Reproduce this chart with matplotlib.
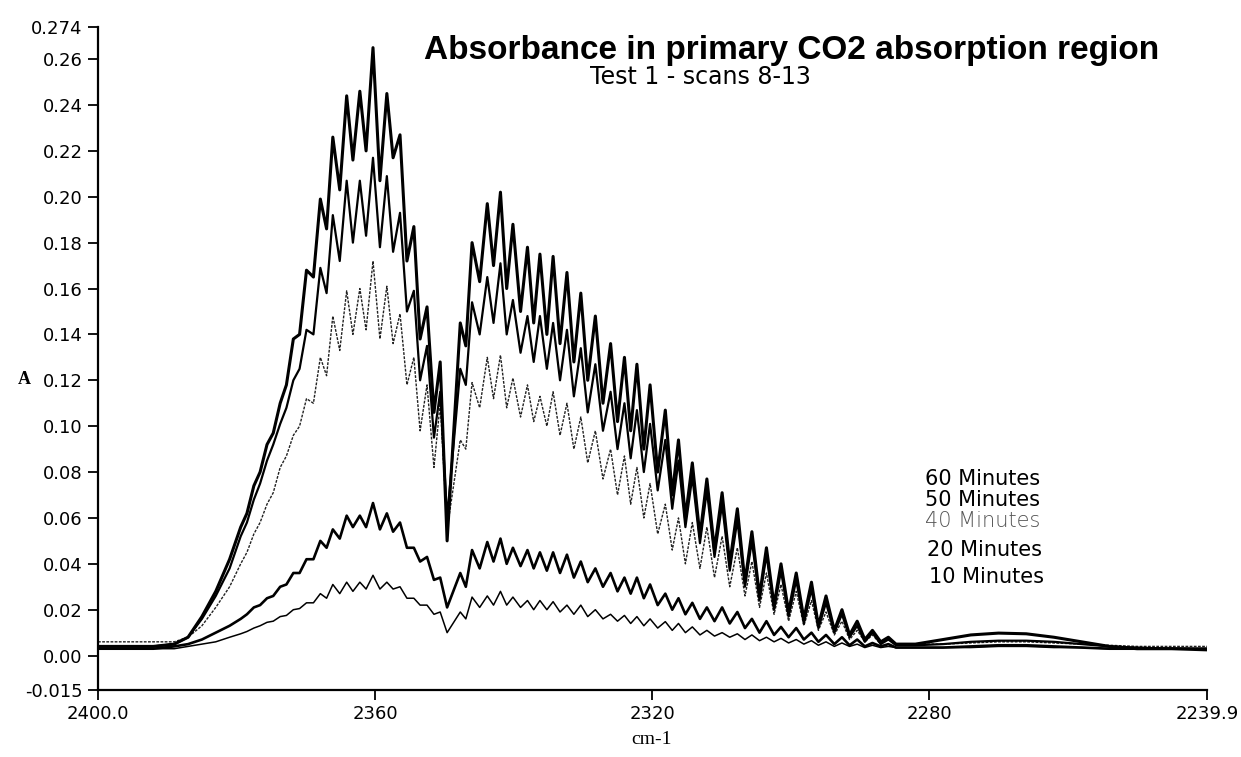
import numpy as np
import matplotlib
matplotlib.use("Agg")
import matplotlib.pyplot as plt

# wavenumber grid (cm-1): left wing, R-branch lines/troughs, P-branch lines/troughs, right tail
nu_left = [2400.0, 2396.0, 2392.0, 2389.0, 2387.0, 2385.0, 2383.0, 2381.0]
nu_r = [2379.4, 2378.5, 2377.5, 2376.6, 2375.6, 2374.7, 2373.7, 2372.8,
        2371.8, 2370.9, 2369.9, 2368.9, 2367.9, 2367.0, 2366.1, 2365.1,
        2364.1, 2363.2, 2362.2, 2361.3, 2360.3, 2359.3, 2358.3, 2357.4,
        2356.4, 2355.4, 2354.4, 2353.5, 2352.5, 2351.5, 2350.6, 2349.6]
nu_p = [2347.7, 2346.9, 2346.0, 2344.9, 2343.8, 2342.9, 2341.9, 2341.0,
        2340.1, 2339.0, 2338.0, 2337.1, 2336.2, 2335.2, 2334.3, 2333.3,
        2332.3, 2331.3, 2330.3, 2329.3, 2328.2, 2327.1, 2326.0, 2325.0,
        2324.0, 2323.1, 2322.2, 2321.2, 2320.3, 2319.2, 2318.1, 2317.1,
        2316.2, 2315.2, 2314.2, 2313.1, 2312.1, 2311.0, 2309.9, 2308.8,
        2307.7, 2306.6, 2305.6, 2304.5, 2303.5, 2302.4, 2301.4, 2300.3,
        2299.2, 2298.1, 2297.0, 2296.0, 2294.9, 2293.7, 2292.6, 2291.5,
        2290.4, 2289.3, 2288.2, 2287.0, 2285.9, 2284.8]
nu_tail = [2282.0, 2278.0, 2274.0, 2270.0, 2266.0, 2262.0, 2258.0, 2254.0,
           2250.0, 2245.0, 2239.9]
wavenumber = np.array(nu_left + nu_r + nu_p + nu_tail)

# absorbance for each scan, same order as the grid
a60 = [0.004, 0.004, 0.004, 0.005, 0.008, 0.017, 0.028, 0.042,
       0.056, 0.062, 0.074, 0.080, 0.092, 0.097, 0.110, 0.118,
       0.138, 0.140, 0.168, 0.165, 0.199, 0.186, 0.226, 0.203,
       0.244, 0.216, 0.246, 0.220, 0.265, 0.207, 0.245, 0.217,
       0.227, 0.172, 0.187, 0.138, 0.152, 0.106, 0.128, 0.050,
       0.145, 0.135, 0.180, 0.163, 0.197, 0.170, 0.202, 0.160,
       0.188, 0.150, 0.178, 0.145, 0.175, 0.140, 0.174, 0.136,
       0.167, 0.128, 0.158, 0.120, 0.148, 0.110, 0.136, 0.102,
       0.130, 0.098, 0.127, 0.090, 0.118, 0.080, 0.107, 0.070,
       0.094, 0.060, 0.084, 0.052, 0.077, 0.046, 0.071, 0.040,
       0.064, 0.032, 0.054, 0.026, 0.047, 0.022, 0.040, 0.019,
       0.036, 0.016, 0.032, 0.013, 0.026, 0.011, 0.020, 0.009,
       0.015, 0.007, 0.011, 0.006, 0.008, 0.005,
       0.005, 0.007, 0.009, 0.0098, 0.0095, 0.008, 0.006, 0.004,
       0.003, 0.003, 0.0025]

a50 = [0.004, 0.004, 0.004, 0.005, 0.008, 0.016, 0.026, 0.038,
       0.052, 0.058, 0.068, 0.075, 0.085, 0.092, 0.101, 0.108,
       0.120, 0.125, 0.142, 0.140, 0.169, 0.158, 0.192, 0.172,
       0.207, 0.180, 0.207, 0.183, 0.217, 0.178, 0.209, 0.176,
       0.193, 0.150, 0.159, 0.120, 0.135, 0.095, 0.115, 0.060,
       0.125, 0.118, 0.154, 0.140, 0.165, 0.145, 0.171, 0.140,
       0.155, 0.132, 0.148, 0.128, 0.148, 0.125, 0.145, 0.120,
       0.142, 0.113, 0.134, 0.106, 0.127, 0.098, 0.115, 0.090,
       0.110, 0.086, 0.107, 0.080, 0.101, 0.072, 0.094, 0.064,
       0.085, 0.056, 0.078, 0.049, 0.072, 0.043, 0.066, 0.037,
       0.059, 0.030, 0.050, 0.024, 0.044, 0.020, 0.037, 0.017,
       0.033, 0.014, 0.029, 0.012, 0.023, 0.010, 0.018, 0.008,
       0.013, 0.006, 0.010, 0.005, 0.007, 0.0045,
       0.0045, 0.005, 0.006, 0.0065, 0.0065, 0.006, 0.005, 0.004,
       0.0035, 0.003, 0.003]

a40 = [0.006, 0.006, 0.006, 0.006, 0.008, 0.013, 0.021, 0.030,
       0.040, 0.045, 0.053, 0.058, 0.066, 0.071, 0.082, 0.087,
       0.096, 0.100, 0.112, 0.110, 0.130, 0.122, 0.148, 0.133,
       0.159, 0.140, 0.160, 0.142, 0.172, 0.138, 0.161, 0.136,
       0.149, 0.118, 0.130, 0.098, 0.118, 0.082, 0.110, 0.055,
       0.094, 0.090, 0.119, 0.108, 0.130, 0.112, 0.131, 0.108,
       0.121, 0.104, 0.118, 0.102, 0.113, 0.100, 0.115, 0.096,
       0.110, 0.090, 0.104, 0.084, 0.098, 0.077, 0.090, 0.070,
       0.087, 0.066, 0.082, 0.060, 0.075, 0.053, 0.066, 0.046,
       0.060, 0.040, 0.058, 0.038, 0.056, 0.034, 0.052, 0.030,
       0.047, 0.026, 0.041, 0.021, 0.036, 0.018, 0.031, 0.015,
       0.028, 0.013, 0.024, 0.011, 0.019, 0.009, 0.015, 0.007,
       0.011, 0.006, 0.009, 0.005, 0.007, 0.005,
       0.005, 0.005, 0.0055, 0.006, 0.006, 0.0055, 0.005, 0.0045,
       0.004, 0.004, 0.004]

a20 = [0.003, 0.003, 0.003, 0.004, 0.005, 0.007, 0.010, 0.013,
       0.016, 0.018, 0.021, 0.022, 0.025, 0.026, 0.030, 0.031,
       0.036, 0.036, 0.042, 0.042, 0.050, 0.047, 0.055, 0.051,
       0.061, 0.056, 0.061, 0.056, 0.0665, 0.055, 0.062, 0.054,
       0.058, 0.047, 0.047, 0.041, 0.043, 0.033, 0.034, 0.021,
       0.036, 0.030, 0.046, 0.038, 0.0495, 0.041, 0.051, 0.040,
       0.047, 0.039, 0.046, 0.038, 0.045, 0.037, 0.045, 0.036,
       0.044, 0.034, 0.041, 0.032, 0.038, 0.030, 0.036, 0.028,
       0.034, 0.027, 0.034, 0.025, 0.031, 0.022, 0.027, 0.020,
       0.025, 0.018, 0.023, 0.016, 0.021, 0.015, 0.021, 0.014,
       0.019, 0.012, 0.016, 0.010, 0.015, 0.009, 0.0125, 0.008,
       0.012, 0.007, 0.010, 0.006, 0.009, 0.005, 0.008, 0.0045,
       0.007, 0.004, 0.0055, 0.004, 0.005, 0.0035,
       0.0035, 0.0035, 0.004, 0.0045, 0.0045, 0.004, 0.0035, 0.003,
       0.003, 0.003, 0.003]

a10 = [0.003, 0.003, 0.003, 0.003, 0.004, 0.005, 0.006, 0.008,
       0.0095, 0.0105, 0.012, 0.013, 0.0145, 0.015, 0.017, 0.0175,
       0.020, 0.0205, 0.023, 0.023, 0.027, 0.025, 0.031, 0.027,
       0.032, 0.028, 0.032, 0.029, 0.035, 0.029, 0.032, 0.029,
       0.030, 0.025, 0.025, 0.022, 0.022, 0.018, 0.019, 0.010,
       0.019, 0.016, 0.0255, 0.021, 0.026, 0.022, 0.028, 0.022,
       0.0255, 0.021, 0.024, 0.020, 0.024, 0.020, 0.0235, 0.019,
       0.022, 0.018, 0.022, 0.017, 0.020, 0.016, 0.018, 0.015,
       0.0175, 0.014, 0.017, 0.013, 0.016, 0.012, 0.0148, 0.011,
       0.014, 0.010, 0.0125, 0.009, 0.011, 0.0085, 0.010, 0.008,
       0.0095, 0.007, 0.009, 0.0065, 0.008, 0.006, 0.0075, 0.0055,
       0.007, 0.005, 0.0065, 0.0045, 0.006, 0.004, 0.0055, 0.004,
       0.005, 0.0035, 0.0045, 0.0035, 0.004, 0.0035,
       0.0035, 0.0035, 0.0035, 0.004, 0.004, 0.0035, 0.0035, 0.003,
       0.003, 0.003, 0.003]

x_ticks = [2400.0, 2360, 2320, 2280, 2239.9]
x_ticklabels = ["2400.0", "2360", "2320", "2280", "2239.9"]
y_ticks = [-0.015, 0.00, 0.02, 0.04, 0.06, 0.08, 0.10, 0.12, 0.14,
           0.16, 0.18, 0.20, 0.22, 0.24, 0.26, 0.274]
y_ticklabels = ["-0.015", "0.00", "0.02", "0.04", "0.06", "0.08", "0.10",
                "0.12", "0.14", "0.16", "0.18", "0.20", "0.22", "0.24",
                "0.26", "0.274"]

fig = plt.figure(figsize=(12.41, 7.57), dpi=100)
ax = fig.add_axes([98 / 1241, 67 / 757, 1109 / 1241, 663 / 757])

ax.plot(wavenumber, a10, color="black", lw=1.1)
ax.plot(wavenumber, a20, color="black", lw=1.9)
ax.plot(wavenumber, a40, color="#222222", lw=1.0, ls=(0, (2, 1)))
ax.plot(wavenumber, a50, color="black", lw=1.6)
ax.plot(wavenumber, a60, color="black", lw=2.2)

ax.set_xlim(2400.0, 2239.9)
ax.set_ylim(-0.015, 0.274)
ax.set_xticks(x_ticks)
ax.set_xticklabels(x_ticklabels)
ax.set_yticks(y_ticks)
ax.set_yticklabels(y_ticklabels)
ax.tick_params(direction="out", length=7, width=1.3, labelsize=13, pad=4)

for side in ["top", "right"]:
    ax.spines[side].set_visible(False)
for side in ["left", "bottom"]:
    ax.spines[side].set_linewidth(1.6)

# labels for each scan, stacked next to the tail of the bands
ax.text(2280.6, 0.0770, "60 Minutes", fontsize=15, color="black",
        va="center", ha="left", fontweight="medium")
ax.text(2280.6, 0.0678, "50 Minutes", fontsize=15, color="black",
        va="center", ha="left")
ax.text(2280.6, 0.0586, "40 Minutes", fontsize=15, color="#555555",
        va="center", ha="left", fontweight="light")
ax.text(2280.3, 0.0460, "20 Minutes", fontsize=15, color="black",
        va="center", ha="left")
ax.text(2280.0, 0.0343, "10 Minutes", fontsize=15, color="black",
        va="center", ha="left")

fig.text(792 / 1241, 1 - 50 / 757, "Absorbance in primary CO2 absorption region",
         fontsize=24, fontweight="bold", family="Liberation Sans",
         ha="center", va="center")
fig.text(700 / 1241, 1 - 77.5 / 757, "Test 1 - scans 8-13", fontsize=17,
         ha="center", va="center")
fig.text(18 / 1241, 1 - 379 / 757, "A", fontsize=13, fontweight="bold",
         family="Liberation Serif", ha="left", va="center")
fig.text(652 / 1241, 1 - 740 / 757, "cm-1", fontsize=14,
         family="Liberation Serif", ha="center", va="center")

fig.savefig("out.png", dpi=100)
